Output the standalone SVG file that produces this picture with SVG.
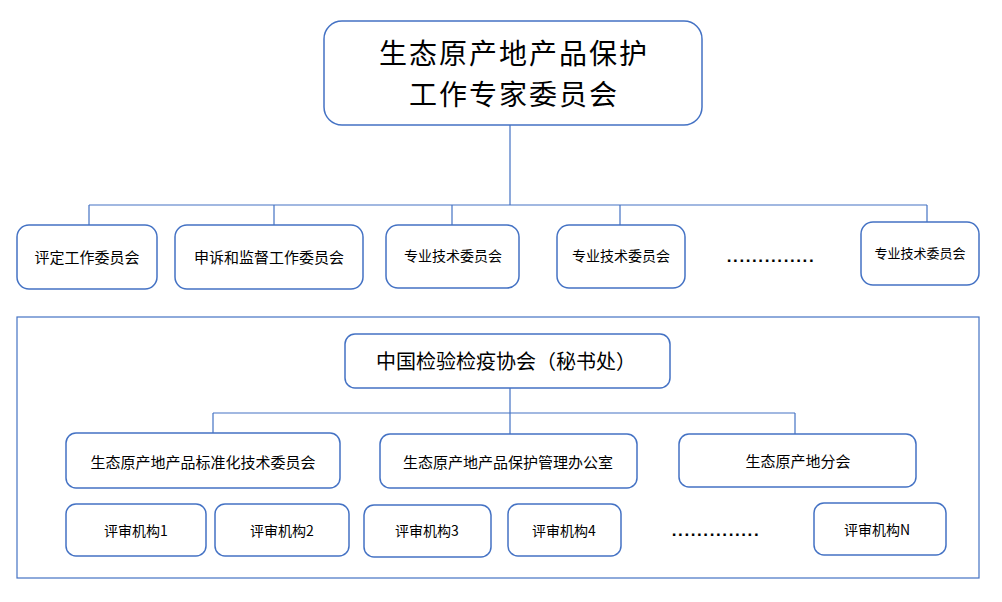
<svg xmlns="http://www.w3.org/2000/svg" width="1002" height="602" viewBox="0 0 1002 602">
<style>
.box{fill:#fff;stroke:#4472C4;stroke-width:1.5}
.frame{fill:none;stroke:#4472C4;stroke-width:1.2}
.con{fill:none;stroke:#4472C4;stroke-width:1.2}
text{font-family:"Noto Sans CJK SC","Microsoft YaHei",sans-serif;fill:#000;text-anchor:middle;dominant-baseline:central}
.t30{font-size:28px;letter-spacing:2px}
.t20{font-size:20px}
.t15{font-size:15px}
.t14{font-size:14px}
.t13{font-size:13px}
.dots{font-family:"Liberation Sans",sans-serif;font-size:17px;font-weight:bold;letter-spacing:1.6px}
</style>
<rect width="1002" height="602" fill="#fff"/>
<g id="connectors">
<path class="con" d="M510 125V205M89 205H927M89 205V225M274 205V225M452 205V225M620 205V225M927 205V222"/>
<path class="con" d="M510 388V434M213 413H795M213 413V433M795 413V434"/>
</g>
<rect id="frame" class="frame" x="17" y="317" width="962" height="261"/>
<g id="n-top"><rect class="box" x="324" y="21" width="378" height="104" rx="18"/><text class="t30" x="514" y="52">生态原产地产品保护</text><text class="t30" x="514" y="93">工作专家委员会</text></g>
<g id="n-pd"><rect class="box" x="17" y="225" width="140" height="64" rx="12"/><text class="t15" x="87" y="256">评定工作委员会</text></g>
<g id="n-ss"><rect class="box" x="175" y="225" width="188" height="64" rx="12"/><text class="t15" x="269" y="256">申诉和监督工作委员会</text></g>
<g id="n-zy1"><rect class="box" x="386" y="225" width="133" height="63" rx="12"/><text class="t14" x="453" y="255">专业技术委员会</text></g>
<g id="n-zy2"><rect class="box" x="557" y="225" width="128" height="63" rx="12"/><text class="t14" x="621" y="255">专业技术委员会</text></g>
<text class="dots" x="771" y="256">..............</text>
<g id="n-zy3"><rect class="box" x="861" y="222" width="118" height="63" rx="12"/><text class="t13" x="920" y="252">专业技术委员会</text></g>
<g id="n-ciq"><rect class="box" x="345" y="334" width="325" height="54" rx="10"/><text class="t20" x="506" y="360">中国检验检疫协会（秘书处）</text></g>
<g id="n-bz"><rect class="box" x="66" y="433" width="274" height="55" rx="10"/><text class="t15" x="203" y="461">生态原产地产品标准化技术委员会</text></g>
<g id="n-gl"><rect class="box" x="380" y="434" width="257" height="54" rx="10"/><text class="t15" x="508" y="461">生态原产地产品保护管理办公室</text></g>
<g id="n-fh"><rect class="box" x="679" y="434" width="237" height="53" rx="10"/><text class="t15" x="798" y="460">生态原产地分会</text></g>
<g id="n-p1"><rect class="box" x="66" y="504" width="140" height="52" rx="10"/><text class="t14" x="136" y="530">评审机构1</text></g>
<g id="n-p2"><rect class="box" x="215" y="504" width="134" height="52" rx="10"/><text class="t14" x="282" y="530">评审机构2</text></g>
<g id="n-p3"><rect class="box" x="364" y="505" width="127" height="52" rx="10"/><text class="t14" x="427" y="530">评审机构3</text></g>
<g id="n-p4"><rect class="box" x="508" y="504" width="113" height="52" rx="10"/><text class="t14" x="564" y="530">评审机构4</text></g>
<text class="dots" x="716" y="530">..............</text>
<g id="n-pn"><rect class="box" x="814" y="503" width="132" height="52" rx="10"/><text class="t14" x="877" y="529">评审机构N</text></g>
</svg>
